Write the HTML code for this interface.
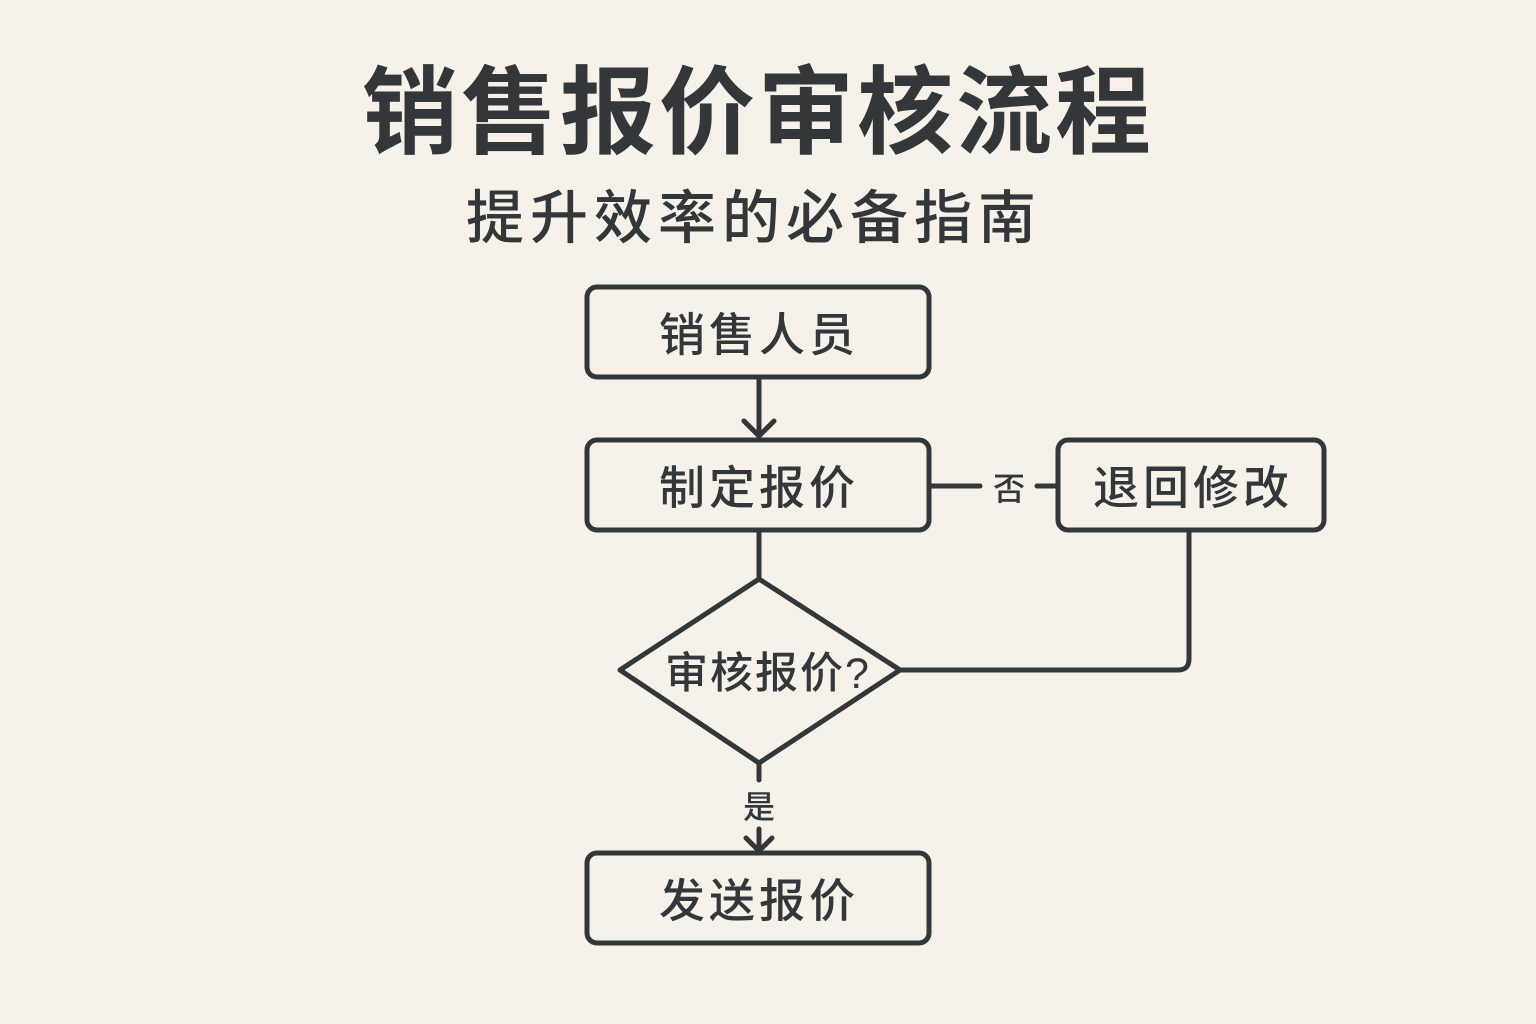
<!DOCTYPE html>
<html><head><meta charset="utf-8"><style>
html,body{margin:0;padding:0;background:#f6f2ea;}
svg{display:block}
text{font-family:"Liberation Sans","Noto Sans CJK SC",sans-serif;fill:#33373a;}
</style></head><body>
<svg width="1536" height="1024" viewBox="0 0 1536 1024">
<rect width="1536" height="1024" fill="#f6f2ea"/>
<text x="758" y="146" font-size="96" font-weight="bold" text-anchor="middle" letter-spacing="3">销售报价审核流程</text>
<text x="754" y="238" font-size="58" font-weight="500" text-anchor="middle" letter-spacing="6">提升效率的必备指南</text>
<g fill="none" stroke="#33373a" stroke-width="5" stroke-linecap="round" stroke-linejoin="round">
<rect x="587" y="287" width="342" height="90" rx="10"/>
<rect x="587" y="440" width="342" height="90" rx="10"/>
<rect x="1058" y="440" width="266" height="90" rx="10"/>
<rect x="587" y="853" width="342" height="90" rx="10"/>
<polygon points="759,579 900,670 759,763 620,670"/>
<line x1="759" y1="378" x2="759" y2="436"/>
<polyline points="744,421 759,436 774,421"/>
<line x1="759" y1="531" x2="759" y2="579"/>
<line x1="759" y1="763" x2="759" y2="780"/>
<line x1="759" y1="829" x2="759" y2="851"/>
<polyline points="746,838 759,851 772,838"/>
<line x1="930" y1="486" x2="980" y2="486"/>
<line x1="1037" y1="486" x2="1057" y2="486"/>
<path d="M900 670 H1178 Q1189 670 1189 659 V531"/>
</g>
<text x="759" y="351" font-size="46" font-weight="500" text-anchor="middle" letter-spacing="4">销售人员</text>
<text x="759" y="504" font-size="46" font-weight="500" text-anchor="middle" letter-spacing="4">制定报价</text>
<text x="1193" y="504" font-size="46" font-weight="500" text-anchor="middle" letter-spacing="4">退回修改</text>
<text x="759" y="917" font-size="46" font-weight="500" text-anchor="middle" letter-spacing="4">发送报价</text>
<text x="768" y="688" font-size="43" font-weight="500" text-anchor="middle" letter-spacing="2">审核报价?</text>
<text x="1009" y="500" font-size="32" font-weight="500" text-anchor="middle">否</text>
<text x="759" y="818" font-size="32" font-weight="500" text-anchor="middle">是</text>
</svg>
</body></html>
